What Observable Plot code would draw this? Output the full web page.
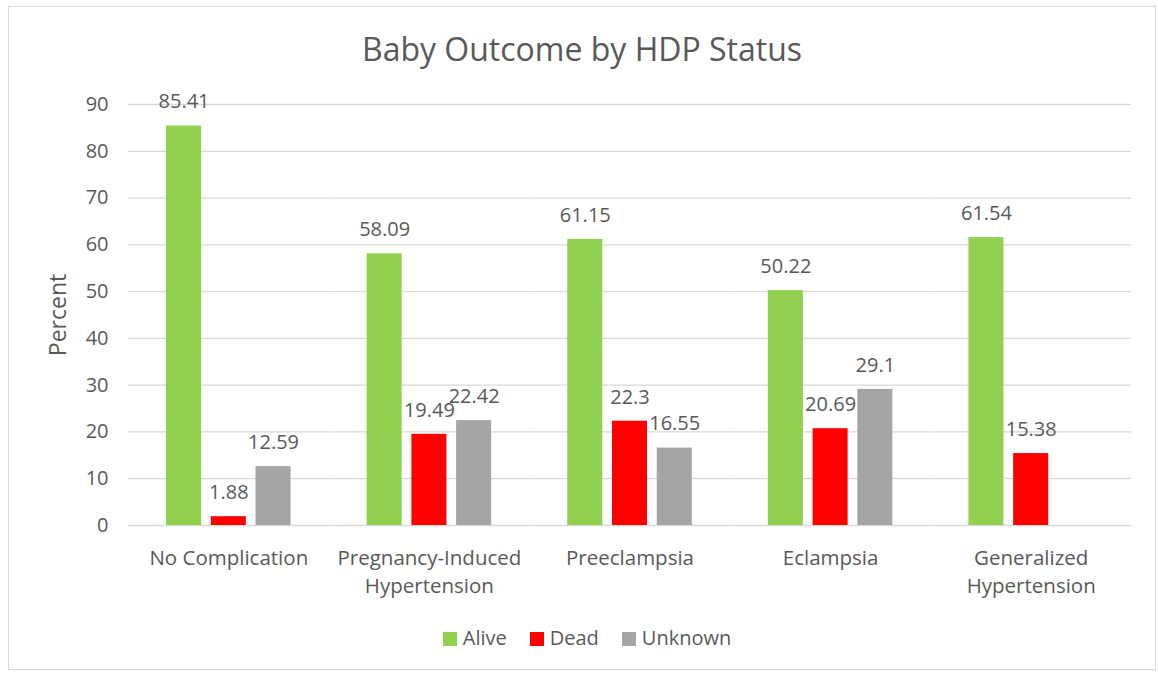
<!DOCTYPE html>
<html>
<head>
<meta charset="utf-8">
<script src="https://cdn.jsdelivr.net/npm/d3@7"></script>
<script src="https://cdn.jsdelivr.net/npm/@observablehq/plot@0.6"></script>
<style>
  html, body { margin: 0; padding: 0; background: #fff; }
  body { width: 1158px; height: 675px; position: relative; overflow: hidden; font-family: "Open Sans", sans-serif; color: #595959; }
  #frame { position: absolute; left: 8px; top: 6px; width: 1148px; height: 664px; border: 1px solid #d9d9d9; box-sizing: border-box; }
  #title { position: absolute; left: 8px; width: 1148px; top: 27px; text-align: center; font-size: 32px; color: #595959; }
  #chart { position: absolute; left: 0; top: 80px; }
  #legend { position: absolute; left: 8px; width: 1158px; top: 624px; text-align: center; font-size: 20px; color: #595959; }
  #legend span.item { display: inline-block; margin: 0 11.5px; }
  #legend span.sw { display: inline-block; width: 14px; height: 14px; margin-right: 6px; vertical-align: -1px; }
</style>
</head>
<body>
<div id="frame"></div>
<div id="title">Baby Outcome by HDP Status</div>
<div id="chart"></div>
<div id="legend"></div>
<script>
const categories = ["No Complication", "Pregnancy-Induced Hypertension", "Preeclampsia", "Eclampsia", "Generalized Hypertension"];
const categoryLabels = ["No Complication", "Pregnancy-Induced\nHypertension", "Preeclampsia", "Eclampsia", "Generalized\nHypertension"];
const seriesNames = ["Alive", "Dead", "Unknown"];
const seriesColors = ["#92D050", "#FF0000", "#A5A5A5"];
const alive = [85.41, 58.09, 61.15, 50.22, 61.54];
const dead = [1.88, 19.49, 22.3, 20.69, 15.38];
const unknown = [12.59, 22.42, 16.55, 29.1, null];
const yTicks = [0, 10, 20, 30, 40, 50, 60, 70, 80, 90];
const yLabel = "Percent";

const seriesValues = [alive, dead, unknown];
const data = [];
categories.forEach((c, i) => {
  seriesNames.forEach((s, j) => {
    const v = seriesValues[j][i];
    if (v != null) data.push({category: c, series: s, value: v});
  });
});
const labelOf = new Map(categories.map((c, i) => [c, categoryLabels[i]]));

const chart = Plot.plot({
  width: 1158,
  height: 525,
  marginLeft: 128,
  marginRight: 27,
  marginTop: 24,
  marginBottom: 80,
  style: {fontFamily: "'Open Sans', sans-serif", color: "#595959", overflow: "visible", background: "transparent"},
  fx: {domain: categories, padding: 0, round: false},
  x: {domain: seriesNames, paddingInner: 0.217, paddingOuter: 0.85, axis: null, round: false},
  y: {domain: [0, 90]},
  color: {domain: seriesNames, range: seriesColors},
  marks: [
    Plot.ruleY(yTicks, {stroke: "#d9d9d9", strokeWidth: 1.3}),
    Plot.axisY({ticks: yTicks, tickSize: 0, tickPadding: 20, fontSize: 20, fill: "#595959", label: null}),
    Plot.axisY({ticks: [], tickSize: 0, fontSize: 23, fill: "#595959", label: yLabel, labelAnchor: "center", labelArrow: "none", labelOffset: 79}),
    Plot.axisFx({anchor: "bottom", tickSize: 0, tickPadding: 20, fontSize: 20.5, lineHeight: 1.36, fill: "#595959", label: null, tickFormat: d => labelOf.get(d)}),
    Plot.barY(data, {fx: "category", x: "series", y: "value", fill: "series"}),
    Plot.text(data, {fx: "category", x: "series", y: "value", text: d => String(d.value), dy: -24, fontSize: 20, fill: "#595959"})
  ]
});
document.getElementById("chart").appendChild(chart);

const legend = document.getElementById("legend");
seriesNames.forEach((s, i) => {
  const item = document.createElement("span");
  item.className = "item";
  const sw = document.createElement("span");
  sw.className = "sw";
  sw.style.background = seriesColors[i];
  item.appendChild(sw);
  item.appendChild(document.createTextNode(s));
  legend.appendChild(item);
});
</script>
</body>
</html>
